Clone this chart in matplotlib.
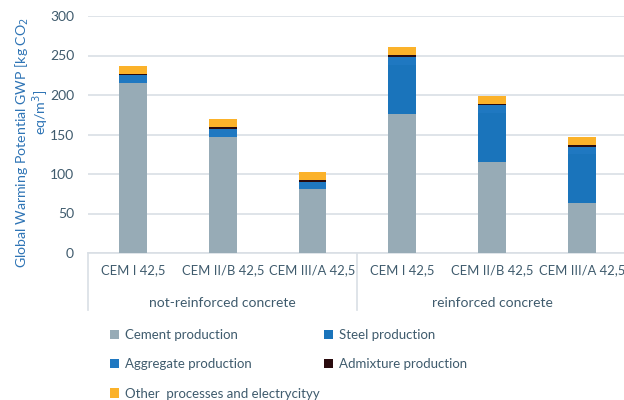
import matplotlib.pyplot as plt
import matplotlib.transforms as mtransforms
from matplotlib.patches import Patch
import numpy as np

# --- data ---
cements = ["CEM I 42,5", "CEM II/B 42,5", "CEM III/A 42,5",
           "CEM I 42,5", "CEM II/B 42,5", "CEM III/A 42,5"]
groups = ["not-reinforced concrete", "reinforced concrete"]

cement = [215, 147, 81, 176, 115, 63.5]
steel = [0, 0, 0, 62, 62, 62]
aggregate = [10, 9.5, 9.5, 10, 10, 9]
admixture = [2.2, 2.5, 2.2, 2.5, 2, 2]
other = [9.5, 10.5, 10, 10, 10, 10.5]

series = [
    ("Cement production", cement, "#97abb6"),
    ("Steel production", steel, "#1a74bb"),
    ("Aggregate production", aggregate, "#1f78c1"),
    ("Admixture production", admixture, "#2a0b0e"),
    ("Other  processes and electrycityy", other, "#fbb22a"),
]

text_color = "#3f5b6d"
label_color = "#2e74b5"
grid_color = "#d9dfe5"

plt.rcParams['font.family'] = ['Lato', 'DejaVu Sans']

fig = plt.figure(figsize=(6.24, 4.0), dpi=100)
ax = fig.add_axes([0.141, 0.3675, 0.8635, 0.5925])

x = np.arange(len(cements))
bottom = np.zeros(len(cements))
handles = {}
for name, vals, color in series:
    vals = np.array(vals, dtype=float)
    ax.bar(x, vals, width=0.31, bottom=bottom, color=color,
           linewidth=0, zorder=3)
    bottom += vals
    handles[name] = Patch(facecolor=color, label=name)

ax.set_xlim(-0.5, 5.5)
ax.set_ylim(0, 300)
ax.set_yticks(range(0, 301, 50))
ax.yaxis.grid(True, color=grid_color, linewidth=1.2, zorder=0)
ax.set_axisbelow(True)
for side in ["top", "right", "left"]:
    ax.spines[side].set_visible(False)
ax.spines["bottom"].set_color(grid_color)
ax.spines["bottom"].set_linewidth(1.2)

ax.set_xticks(x)
ax.set_xticklabels(cements)
ax.tick_params(axis="both", length=0, labelsize=9.4, labelcolor=text_color)
ax.tick_params(axis="y", labelsize=10, pad=10)
ax.tick_params(axis="x", pad=8)

# y label: two wrapped lines as in the original
fig.text(22 / 624, 1 - 142 / 400, "Global Warming Potential GWP [kg CO$_2$",
         rotation=90, ha="center", va="center", fontsize=10.2, color=label_color)
fig.text(41 / 624, 1 - 112 / 400, "eq/m$^3$]",
         rotation=90, ha="center", va="center", fontsize=10.2, color=label_color)

# group labels and separators under the axis
trans = mtransforms.blended_transform_factory(ax.transData, ax.transAxes)
for i, g in enumerate(groups):
    ax.text(1 + 3 * i, -0.21, g, transform=trans, ha="center", va="center",
            fontsize=10, color=text_color)
for xs in [-0.5, 2.5]:
    ax.plot([xs, xs], [0, -0.24], transform=trans, color=grid_color,
            linewidth=1.2, clip_on=False)

order = ["Cement production", "Aggregate production",
         "Other  processes and electrycityy",
         "Steel production", "Admixture production"]
fig.legend(handles=[handles[n] for n in order], loc="upper left",
           bbox_to_anchor=(0.168, 0.19), ncol=2, frameon=False,
           fontsize=9.5, labelcolor=text_color, handlelength=0.7,
           handleheight=0.7, handletextpad=0.45, columnspacing=0.3,
           labelspacing=1.3, borderaxespad=0)

fig.savefig("out.png", dpi=100)
